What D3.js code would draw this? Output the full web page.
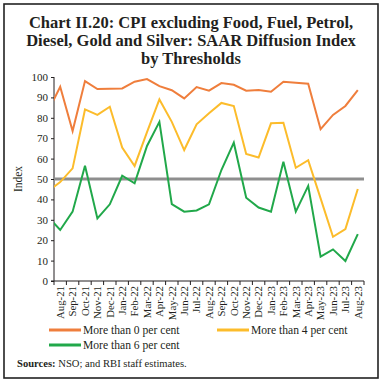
<!DOCTYPE html>
<html>
<head>
<meta charset="utf-8">
<script src="https://cdn.jsdelivr.net/npm/d3@7"></script>
<style>
  body { margin: 0; background: #fff; }
  svg { display: block; font-family: "Liberation Serif", "DejaVu Serif", serif; }
</style>
</head>
<body>
<div id="chart"></div>
<script>
// months (Jul-21 is only the lead-in point, clipped at the axis)
const months = ["Jul-21","Aug-21","Sep-21","Oct-21","Nov-21","Dec-21","Jan-22","Feb-22","Mar-22","Apr-22",
  "May-22","Jun-22","Jul-22","Aug-22","Sep-22","Oct-22","Nov-22","Dec-22","Jan-23","Feb-23",
  "Mar-23","Apr-23","May-23","Jun-23","Jul-23","Aug-23"];
const above0 = [83, 95.2, 73.5, 98, 94.1, 94.3, 94.4, 97.7, 99, 95.5,
  93.5, 89.5, 95.1, 93.3, 97, 96.2, 93.3, 93.6, 92.8, 97.7,
  97.2, 96.7, 74.4, 81.4, 85.8, 93.6];
const above4 = [44, 48.5, 55.2, 84.1, 81.4, 85.4, 65.4, 56.4, 73, 89,
  78, 64.2, 76.8, 82.2, 87.3, 85.8, 62.3, 60.5, 77.3, 77.6,
  55.5, 59.2, 40.5, 21.7, 25.5, 45.1];
const above6 = [31.7, 25, 34, 56.5, 30.7, 37.6, 51.6, 47.9, 66.2, 78,
  37.7, 34, 34.6, 37.6, 54.4, 67.8, 40.8, 36, 34, 58.5,
  34, 46.6, 11.9, 15.5, 9.8, 23];
const seriesNames = ["More than 0 per cent", "More than 4 per cent", "More than 6 per cent"];
const seriesColors = ["#ef7e3c", "#fcbc2b", "#21a84a"];
const yTicks = d3.range(0, 101, 10);
const threshold = 50;

const W = 382, H = 382;
const margin = {left: 54, right: 18, top: 77, bottom: 101};

const svg = d3.select("#chart").append("svg").attr("width", W).attr("height", H);

// frame
svg.append("rect").attr("x", 4).attr("y", 4).attr("width", 374).attr("height", 374)
  .attr("fill", "none").attr("stroke", "#222").attr("stroke-width", 1.6);

// title
const title = ["Chart II.20: CPI excluding Food, Fuel, Petrol,",
               "Diesel, Gold and Silver: SAAR Diffusion Index",
               "by Thresholds"];
svg.append("g").selectAll("text").data(title).enter().append("text")
  .attr("x", W / 2).attr("y", (d, i) => 28 + i * 18)
  .attr("text-anchor", "middle").attr("font-size", 16.5).attr("font-weight", "bold")
  .attr("fill", "#231f20").text(d => d);

const innerW = W - margin.left - margin.right;
const innerH = H - margin.top - margin.bottom;
const shown = months.slice(1);

const x = d3.scaleBand().domain(shown).range([0, innerW]);
const step = x.step();
const xPos = (d, i) => i === 0 ? x(shown[0]) - step / 2 : x(months[i]) + step / 2;
const y = d3.scaleLinear().domain([0, 100]).range([innerH, 0]);

const g = svg.append("g").attr("transform", `translate(${margin.left},${margin.top})`);

svg.append("clipPath").attr("id", "plotclip").append("rect")
  .attr("x", margin.left).attr("y", margin.top - 5).attr("width", innerW).attr("height", innerH + 10);

// y axis
const yAxis = g.append("g").call(d3.axisLeft(y).tickValues(yTicks).tickSize(3).tickPadding(3));
yAxis.selectAll("text").attr("font-size", 11).attr("fill", "#231f20").attr("font-family", "Liberation Serif");
yAxis.selectAll("line, path").attr("stroke", "#231f20");
yAxis.select(".domain").attr("d", `M-3,${innerH}H0V0`);

g.append("text").attr("transform", `translate(-32,${innerH / 2}) rotate(-90)`)
  .attr("text-anchor", "middle").attr("font-size", 11.5).attr("fill", "#231f20").text("Index");

// x axis
const xAxis = g.append("g").attr("transform", `translate(0,${innerH})`)
  .call(d3.axisBottom(x).tickSize(0).tickPadding(0));
xAxis.select(".domain").attr("stroke", "#231f20").attr("d", `M0,0H${innerW}`);
xAxis.selectAll(".tick text")
  .attr("transform", "rotate(-90)").attr("text-anchor", "end")
  .attr("x", -5).attr("y", 0).attr("dy", "0.35em")
  .attr("font-size", 10.8).attr("fill", "#231f20").attr("font-family", "Liberation Serif");
g.append("g").selectAll("line").data(d3.range(shown.length + 1)).enter().append("line")
  .attr("x1", i => i * step).attr("x2", i => i * step)
  .attr("y1", innerH).attr("y2", innerH + 4).attr("stroke", "#231f20");

// threshold line
g.append("line").attr("x1", 0).attr("x2", innerW)
  .attr("y1", y(threshold)).attr("y2", y(threshold))
  .attr("stroke", "#8e8e8e").attr("stroke-width", 3.2);

// series
const line = d3.line().x((d, i) => xPos(d, i)).y(d => y(d));
const lines = svg.append("g").attr("clip-path", "url(#plotclip)")
  .append("g").attr("transform", `translate(${margin.left},${margin.top})`);
[above0, above4, above6].forEach((s, k) => {
  lines.append("path").datum(s).attr("d", line)
    .attr("fill", "none").attr("stroke", seriesColors[k]).attr("stroke-width", 2)
    .attr("stroke-linejoin", "miter");
});

// legend
const legPos = [[49, 330], [217, 330], [49, 345]];
const leg = svg.append("g").selectAll("g").data(seriesNames).enter().append("g")
  .attr("transform", (d, i) => `translate(${legPos[i][0]},${legPos[i][1]})`);
leg.append("line").attr("x1", 0).attr("x2", 32).attr("stroke", (d, i) => seriesColors[i]).attr("stroke-width", 3);
leg.append("text").attr("x", 34).attr("dy", "0.35em").attr("font-size", 11.6).attr("fill", "#231f20").text(d => d);

// source
const src = svg.append("text").attr("x", 17).attr("y", 367).attr("font-size", 10.6).attr("fill", "#231f20");
src.append("tspan").attr("font-weight", "bold").text("Sources:");
src.append("tspan").text(" NSO; and RBI staff estimates.");
</script>
</body>
</html>
